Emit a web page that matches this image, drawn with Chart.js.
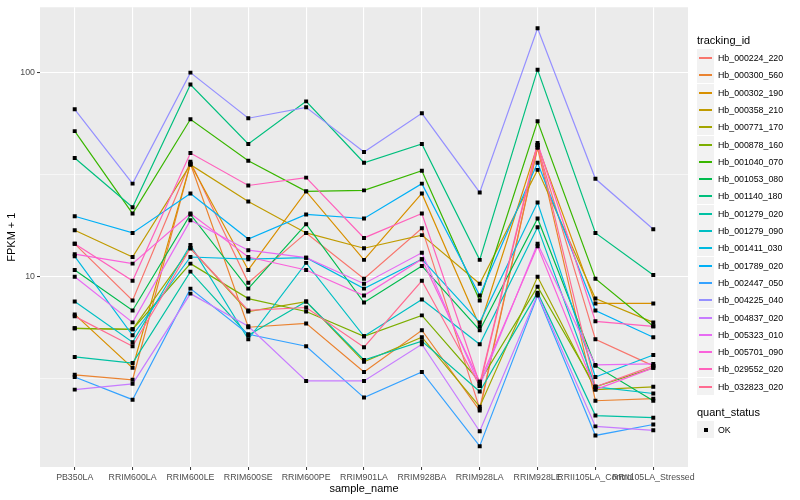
<!DOCTYPE html>
<html>
<head>
<meta charset="utf-8">
<script src="https://cdn.jsdelivr.net/npm/chart.js@4.4.1/dist/chart.umd.min.js"></script>
<style>
    body { margin: 0; background: #fff; font-family: 'Liberation Sans', Arial, sans-serif; }
    #wrap { position: relative; width: 800px; height: 500px; }
    #legend { position: absolute; left: 697px; top: 0; width: 103px; height: 500px; }
    .ttl { position: absolute; left: 0; font-size: 11px; color: #000; height: 17px; line-height: 17px; white-space: nowrap; }
    .row { position: absolute; left: 0; display: flex; align-items: center; height: 17px; }
    .key { width: 17px; height: 17px; background: #F2F2F2; position: relative; margin-right: 4px; }
    .key i { position: absolute; left: 2px; right: 2px; top: 8px; height: 2px; }
    .key b { position: absolute; left: 7px; top: 7px; width: 4px; height: 4px; background: #000; }
    .lbl { font-size: 8.8px; color: #000; white-space: nowrap; }
</style>
</head>
<body>
<div id="wrap">
    <canvas id="chart" width="800" height="500"></canvas>
    <div id="legend"></div>
</div>
<script>
const sampleNames = ['PB350LA', 'RRIM600LA', 'RRIM600LE', 'RRIM600SE', 'RRIM600PE', 'RRIM901LA',
    'RRIM928BA', 'RRIM928LA', 'RRIM928LE', 'RRII105LA_Control', 'RRII105LA_Stressed'];

const trackingIds = ['Hb_000224_220', 'Hb_000300_560', 'Hb_000302_190', 'Hb_000358_210', 'Hb_000771_170',
    'Hb_000878_160', 'Hb_001040_070', 'Hb_001053_080', 'Hb_001140_180', 'Hb_001279_020',
    'Hb_001279_090', 'Hb_001411_030', 'Hb_001789_020', 'Hb_002447_050', 'Hb_004225_040',
    'Hb_004837_020', 'Hb_005323_010', 'Hb_005701_090', 'Hb_029552_020', 'Hb_032823_020'];

// FPKM + 1 per sample
const hb000224_220 = [14.5, 7.65, 36.6, 9.35, 16.4, 9.78, 17.3, 2.26, 43.2, 4.94, 3.66];
const hb000300_560 = [3.31, 3.13, 35.8, 5.66, 5.91, 3.42, 5.47, 2.21, 42.8, 2.47, 2.53];
const hb000302_190 = [6.54, 3.58, 35.8, 10.8, 26.2, 12.1, 25.6, 5.72, 44.2, 7.40, 7.40];
const hb000358_210 = [16.9, 12.5, 35.4, 23.4, 16.4, 13.8, 16.0, 9.25, 33.4, 7.82, 5.98];
const hb000771_170 = [5.59, 5.53, 13.8, 6.76, 7.56, 3.83, 5.06, 2.31, 10.0, 2.80, 2.89];
const hb000878_160 = [5.59, 5.53, 11.6, 7.82, 6.76, 5.11, 6.47, 3.06, 8.94, 2.89, 3.58];
const hb001040_070 = [51.7, 20.4, 59.1, 37.0, 26.2, 26.5, 33.1, 7.65, 57.8, 9.78, 5.72];
const hb001053_080 = [10.8, 6.84, 20.2, 8.75, 18.1, 7.48, 11.3, 5.47, 19.3, 3.66, 2.47];
const hb001140_180 = [38.2, 21.9, 87.4, 44.7, 72.3, 36.2, 44.7, 12.1, 103.4, 16.4, 10.2];
const hb001279_020 = [4.05, 3.78, 10.6, 5.17, 7.56, 3.91, 4.84, 2.74, 8.36, 2.09, 2.04];
const hb001279_090 = [7.56, 4.78, 14.3, 4.94, 11.7, 5.11, 7.73, 4.67, 17.5, 2.89, 2.68];
const hb001411_030 = [12.6, 5.17, 12.5, 12.2, 12.4, 8.75, 12.2, 5.98, 23.1, 3.23, 4.14];
const hb001789_020 = [19.8, 16.4, 25.6, 15.3, 20.2, 19.3, 28.6, 8.09, 36.2, 6.84, 5.06];
const hb002447_050 = [3.23, 2.50, 8.75, 5.23, 4.57, 2.56, 3.42, 1.48, 8.09, 1.67, 1.89];
const hb004225_040 = [66.1, 28.6, 100, 59.8, 67.6, 40.9, 63.2, 25.9, 165, 30.2, 17.1];
const hb004837_020 = [2.80, 2.99, 8.27, 5.72, 3.09, 3.09, 4.67, 1.75, 8.18, 1.85, 1.77];
const hb005323_010 = [10.0, 5.98, 18.9, 13.5, 12.4, 9.25, 13.1, 2.92, 14.5, 3.70, 3.74];
const hb005701_090 = [12.9, 11.6, 20.4, 12.5, 10.8, 8.09, 12.2, 3.06, 14.1, 2.80, 3.58];
const hb029552_020 = [14.5, 9.56, 40.4, 28.0, 30.6, 15.5, 20.4, 2.99, 45.2, 6.05, 5.72];
const hb032823_020 = [6.40, 4.57, 13.8, 6.84, 7.07, 4.52, 9.56, 2.92, 44.2, 2.89, 3.66];

const seriesValues = [hb000224_220, hb000300_560, hb000302_190, hb000358_210, hb000771_170,
    hb000878_160, hb001040_070, hb001053_080, hb001140_180, hb001279_020,
    hb001279_090, hb001411_030, hb001789_020, hb002447_050, hb004225_040,
    hb004837_020, hb005323_010, hb005701_090, hb029552_020, hb032823_020];

const yTickValues = [3.1623, 10, 31.623, 100];
const yLabelled = [10, 100];

// ggplot hue palette, 20 levels
const palette = ['#F8766D', '#EA8331', '#D89000', '#C09B00', '#A3A500', '#7CAE00', '#39B600', '#00BB4E',
    '#00BF7D', '#00C1A3', '#00BFC4', '#00BAE0', '#00B0F6', '#35A2FF', '#9590FF', '#C77CFF',
    '#E76BF3', '#FA62DB', '#FF62BC', '#FF6C91'];

const FONT = "'Liberation Sans', Arial, sans-serif";

// grey panel behind the grid
const panelBg = {
    id: 'panelBg',
    beforeDraw(chart) {
        const a = chart.chartArea;
        const ctx = chart.ctx;
        ctx.save();
        ctx.fillStyle = '#EBEBEB';
        ctx.fillRect(a.left, a.top, a.right - a.left, a.bottom - a.top);
        ctx.restore();
    }
};

function buildDatasets() {
    const lines = seriesValues.map((vals, i) => ({
        label: trackingIds[i],
        data: vals.map((v, j) => ({ x: j, y: v })),
        borderColor: palette[i],
        borderWidth: 1.2,
        pointRadius: 0,
        fill: false,
        order: seriesValues.length - i
    }));
    const pts = [];
    seriesValues.forEach(vals => vals.forEach((v, j) => pts.push({ x: j, y: v })));
    lines.push({
        label: 'OK',
        data: pts,
        showLine: false,
        pointStyle: 'rect',
        pointRadius: 2.8,
        pointBorderWidth: 0,
        pointBackgroundColor: '#000',
        order: -1
    });
    return lines;
}

function isMajor(v) {
    return yLabelled.some(m => Math.abs(m - v) < 1e-6);
}

new Chart(document.getElementById('chart'), {
    type: 'line',
    data: { datasets: buildDatasets() },
    plugins: [panelBg],
    options: {
        responsive: false,
        animation: false,
        layout: { padding: { top: 5, right: 112, left: 0, bottom: 0 } },
        plugins: { legend: { display: false }, tooltip: { enabled: false } },
        scales: {
            x: {
                type: 'linear',
                min: -0.6,
                max: sampleNames.length - 0.4,
                afterBuildTicks: s => { s.ticks = sampleNames.map((n, i) => ({ value: i })); },
                afterFit: s => { s.height = 33; },
                border: { display: false },
                grid: { color: '#FFFFFF', lineWidth: 1.1, tickColor: '#333333', tickLength: 3, tickWidth: 1 },
                ticks: {
                    autoSkip: false, maxRotation: 0, padding: 2,
                    color: '#4D4D4D', font: { family: FONT, size: 8.8 },
                    callback: v => sampleNames[v]
                },
                title: { display: true, text: 'sample_name', color: '#000', font: { family: FONT, size: 11 }, padding: { top: 0, bottom: 4 } }
            },
            y: {
                type: 'logarithmic',
                min: 1.17,
                max: 209,
                afterBuildTicks: s => { s.ticks = yTickValues.map(v => ({ value: v })); },
                afterFit: s => { s.width = 40; },
                border: { display: false },
                grid: {
                    color: '#FFFFFF',
                    lineWidth: c => isMajor(c.tick.value) ? 1.1 : 0.55,
                    tickColor: c => isMajor(c.tick.value) ? '#333333' : 'rgba(0,0,0,0)',
                    tickLength: 3, tickWidth: 1
                },
                ticks: {
                    padding: 2, color: '#4D4D4D', font: { family: FONT, size: 8.8 },
                    callback: v => isMajor(v) ? String(Math.round(v)) : ''
                },
                title: { display: true, text: 'FPKM + 1', color: '#000', font: { family: FONT, size: 11 }, padding: { top: 5, bottom: 0 } }
            }
        }
    }
});

// legend on the right, ggplot style; rows snapped to whole pixels
function buildLegend() {
    const el = document.getElementById('legend');
    let html = '<div class="ttl" style="top:32px">tracking_id</div>';
    trackingIds.forEach((id, i) => {
        const top = Math.round(49 + i * 17.3);
        html += '<div class="row" style="top:' + top + 'px"><div class="key"><i style="background:' + palette[i] + '"></i></div>'
            + '<span class="lbl">' + id + '</span></div>';
    });
    html += '<div class="ttl" style="top:404px">quant_status</div>';
    html += '<div class="row" style="top:421px"><div class="key"><b></b></div><span class="lbl">OK</span></div>';
    el.innerHTML = html;
}
buildLegend();
</script>
</body>
</html>
